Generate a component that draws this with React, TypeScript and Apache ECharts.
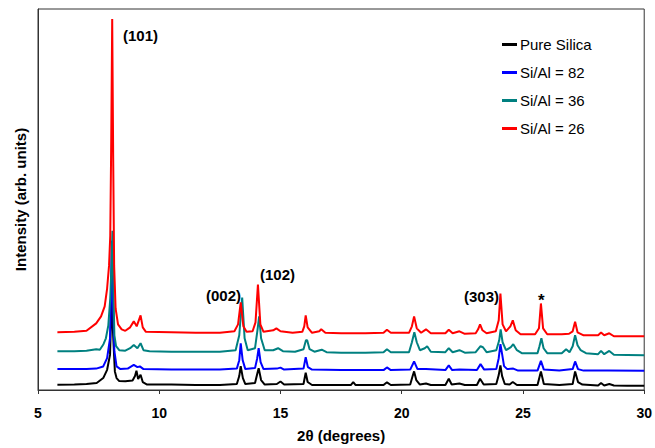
import React, { useEffect, useRef } from "react";
import * as echarts from "echarts";

// 2θ (degrees), intensity (arb. units, offset stacked)
const pureSilica: [number, number][] = [
  [5.8, 5.3], [6.5, 5.5], [7.0, 6], [7.42, 7], [7.69, 12], [7.85, 20.3], [7.97, 35.3], [8.01, 70], [8.03, 115], [8.07, 70],
  [8.17, 18.7], [8.24, 12], [8.35, 9], [8.6, 8.7], [8.9, 9.5], [9.0, 14], [9.06, 19.3], [9.13, 11], [9.23, 15.3], [9.32, 8],
  [9.5, 5.5], [10.5, 5.5], [11.5, 5], [12.5, 5], [13.2, 6], [13.3, 14], [13.36, 24], [13.45, 12], [13.55, 6], [13.95, 7],
  [14.05, 17], [14.1, 22], [14.2, 10], [14.35, 5.5], [14.85, 6], [15.0, 8.5], [15.15, 5.5], [15.95, 6], [16.04, 17.3], [16.12, 8],
  [16.3, 5], [17.5, 5], [17.9, 5], [18.0, 8], [18.1, 5], [19.25, 5], [19.39, 7.7], [19.55, 5], [20.35, 5.5], [20.45, 14],
  [20.51, 18.7], [20.6, 10], [20.75, 5.5], [21.0, 6.5], [21.2, 5], [21.8, 5], [21.94, 11.3], [22.06, 5.5], [22.38, 6.5], [22.6, 5],
  [23.1, 5], [23.23, 11.3], [23.38, 5.5], [23.9, 6], [24.0, 15], [24.07, 24.7], [24.14, 14], [24.25, 6], [24.45, 5.5], [24.58, 8],
  [24.75, 5], [25.6, 5], [25.74, 18.7], [25.86, 6], [26.5, 5], [27.05, 6], [27.15, 18.7], [27.27, 8], [27.45, 5.5], [28.1, 4.5],
  [28.22, 7], [28.35, 4.5], [28.56, 6], [28.75, 4.5], [29.3, 4.3], [30.0, 4.3],
];

const siAl82: [number, number][] = [
  [5.8, 21], [6.5, 21], [7.0, 21], [7.4, 21.5], [7.69, 23.7], [7.85, 32], [7.97, 52], [8.01, 95], [8.04, 150], [8.08, 95],
  [8.15, 39], [8.24, 23.7], [8.4, 21], [8.7, 21.5], [8.95, 25.3], [9.1, 23], [9.2, 23.7], [9.35, 21], [10.5, 20.5], [11.5, 20.5],
  [12.5, 20.5], [13.2, 21.5], [13.3, 30], [13.36, 47], [13.44, 30], [13.55, 21], [13.95, 22], [14.04, 32], [14.1, 42], [14.18, 28],
  [14.3, 21], [14.85, 21.5], [15.0, 22.5], [15.15, 20.5], [15.95, 21.5], [16.04, 33], [16.13, 23], [16.3, 20.5], [17.5, 20], [18.5, 20],
  [19.25, 20], [19.39, 22.7], [19.55, 20], [20.35, 20.5], [20.51, 28.7], [20.65, 21], [21.0, 21], [21.8, 20], [21.94, 24.7], [22.08, 20],
  [22.38, 20.5], [23.1, 20], [23.25, 26], [23.4, 20.5], [23.9, 21], [24.0, 32], [24.07, 46], [24.14, 36], [24.22, 24], [24.35, 21],
  [24.6, 21.5], [24.8, 19.5], [25.6, 19.5], [25.74, 29.3], [25.86, 20.5], [26.5, 19.5], [27.05, 21], [27.15, 28.7], [27.27, 21], [27.5, 19.5],
  [28.5, 19.5], [30.0, 19.3],
];

const siAl36: [number, number][] = [
  [5.8, 39], [6.5, 39], [7.0, 39.5], [7.4, 41], [7.55, 40.5], [7.7, 46], [7.8, 52], [7.9, 65], [7.98, 92], [8.03, 125],
  [8.07, 160], [8.11, 100], [8.15, 55], [8.22, 44], [8.35, 40], [8.6, 39.5], [8.8, 42], [8.95, 45.3], [9.1, 42], [9.23, 47],
  [9.35, 40], [9.6, 39], [10.5, 38.5], [11.5, 38.5], [12.5, 38.5], [13.15, 40], [13.3, 55], [13.42, 93], [13.52, 52], [13.65, 40],
  [13.95, 42], [14.05, 60], [14.12, 74], [14.2, 52], [14.35, 40], [14.7, 40], [14.9, 42], [15.1, 39], [15.6, 38.5], [15.95, 41],
  [16.05, 50], [16.1, 50], [16.2, 41], [16.4, 38.5], [16.7, 40.5], [16.9, 38], [17.5, 37.5], [18.5, 37.5], [19.25, 38], [19.39, 41],
  [19.55, 38], [20.3, 38], [20.42, 48], [20.52, 58], [20.62, 48], [20.75, 40], [20.95, 42], [21.05, 44], [21.2, 38.5], [21.8, 38],
  [21.94, 42], [22.1, 38], [22.38, 40], [22.6, 37.5], [23.05, 38], [23.25, 44], [23.35, 43], [23.5, 38], [23.9, 40], [24.02, 50],
  [24.08, 61], [24.16, 48], [24.3, 40], [24.5, 43], [24.6, 46], [24.75, 40], [24.95, 37], [25.6, 37], [25.68, 44], [25.76, 52],
  [25.85, 42], [26.0, 37], [26.6, 37], [26.78, 41], [26.92, 38], [27.05, 44], [27.15, 55], [27.25, 45], [27.38, 40], [27.45, 39],
  [27.6, 37], [28.1, 36], [28.22, 39.3], [28.35, 36], [28.56, 39.3], [28.75, 35.5], [29.3, 35.3], [30.0, 35],
];

const siAl26: [number, number][] = [
  [5.8, 58], [6.5, 58.5], [7.0, 59.5], [7.4, 67], [7.6, 74], [7.75, 84], [7.85, 102], [7.93, 125], [7.98, 155], [8.02, 250],
  [8.06, 373], [8.1, 235], [8.14, 125], [8.2, 82], [8.3, 66], [8.45, 61], [8.6, 59.5], [8.8, 63], [8.95, 69], [9.07, 64],
  [9.23, 75], [9.32, 63], [9.45, 58.5], [10.5, 58], [11.5, 57.5], [12.5, 57.5], [13.1, 59], [13.25, 66], [13.36, 88], [13.47, 64],
  [13.6, 58.5], [13.85, 59], [13.97, 68], [14.07, 106], [14.17, 66], [14.3, 58.5], [14.7, 60], [14.83, 62], [15.0, 59], [15.5, 57.5],
  [15.9, 58.5], [15.98, 64], [16.04, 75], [16.12, 63], [16.3, 57.5], [16.6, 59], [16.68, 61], [16.85, 57.5], [17.5, 57], [18.5, 57],
  [19.25, 57.5], [19.39, 60.5], [19.55, 57.5], [20.3, 57.5], [20.42, 64], [20.51, 74], [20.62, 62], [20.8, 57.5], [21.0, 61], [21.2, 57],
  [21.8, 57], [21.94, 60.5], [22.1, 57], [22.38, 59], [22.6, 56.5], [23.05, 57], [23.15, 61], [23.23, 66], [23.33, 60], [23.5, 57],
  [23.88, 59], [24.0, 70], [24.07, 97], [24.16, 66], [24.3, 59], [24.48, 64], [24.58, 70], [24.7, 60], [24.9, 56], [25.5, 56],
  [25.66, 62], [25.74, 87], [25.83, 62], [26.0, 56], [26.6, 56], [26.9, 56.5], [27.05, 59], [27.15, 68.7], [27.25, 58], [27.5, 55],
  [28.1, 55], [28.22, 57.7], [28.35, 55], [28.56, 57], [28.75, 54], [29.3, 54], [30.0, 54],
];

const seriesNames = ["Pure Silica", "Si/Al = 82", "Si/Al = 36", "Si/Al = 26"];
const seriesColors = ["#000000", "#0000ff", "#008080", "#ff0000"];
const seriesData = [pureSilica, siAl82, siAl36, siAl26];

const peakLabels = ["(101)", "(002)", "(102)", "(303)", "*"];
const xTickLabels = ["5", "10", "15", "20", "25", "30"];

const FONT = "'Liberation Sans', Arial, Helvetica, sans-serif";

export default function App() {
  const ref = useRef<HTMLDivElement>(null);
  useEffect(() => {
    if (!ref.current) return;
    const chart = echarts.init(ref.current, undefined, { renderer: "svg" });
    const labelPos = [
      { x: 123, y: 35 },
      { x: 206, y: 295 },
      { x: 260, y: 274 },
      { x: 464, y: 296 },
      { x: 538, y: 300 },
    ];
    chart.setOption({
      animation: false,
      backgroundColor: "#ffffff",
      grid: {
        left: 38,
        right: 10,
        top: 9,
        bottom: 56,
        show: true,
        borderColor: "#333",
        borderWidth: 1,
        backgroundColor: "transparent",
      },
      legend: {
        orient: "vertical",
        left: 497,
        top: 32,
        itemGap: 13,
        itemWidth: 15,
        itemHeight: 3,
        icon: "rect",
        data: seriesNames,
        textStyle: { fontFamily: FONT, fontSize: 15, color: "#000", padding: [0, 0, 0, -2] },
      },
      xAxis: {
        type: "value",
        min: 5,
        max: 30,
        interval: 5,
        name: "2θ (degrees)",
        nameLocation: "middle",
        nameGap: 38,
        nameTextStyle: { fontFamily: FONT, fontSize: 15, fontWeight: "bold", color: "#000" },
        axisLine: { show: true, lineStyle: { color: "#333", width: 1 } },
        axisTick: { show: true, length: 4, inside: false, lineStyle: { color: "#333" } },
        axisLabel: {
          margin: 16,
          fontFamily: FONT,
          fontSize: 14,
          fontWeight: "bold",
          color: "#000",
          formatter: (v: number) => {
            const i = Math.round((v - 5) / 5);
            return xTickLabels[i] ?? "";
          },
        },
        splitLine: { show: false },
      },
      yAxis: {
        type: "value",
        min: 0,
        max: 383,
        name: "Intensity (arb. units)",
        nameLocation: "middle",
        nameGap: 10,
        nameTextStyle: { fontFamily: FONT, fontSize: 15, fontWeight: "bold", color: "#000" },
        axisLine: { show: true, lineStyle: { color: "#333", width: 1 } },
        axisTick: { show: false },
        axisLabel: { show: false },
        splitLine: { show: false },
      },
      series: seriesData.map((d, i) => ({
        name: seriesNames[i],
        type: "line",
        data: d,
        showSymbol: false,
        symbol: "none",
        color: seriesColors[i],
        lineStyle: { color: seriesColors[i], width: 2 },
        z: 2 + i,
      })),
      graphic: peakLabels.map((t, i) => ({
        type: "text",
        x: labelPos[i].x,
        y: labelPos[i].y,
        z: 10,
        style: {
          text: t,
          fontFamily: FONT,
          fontSize: t === "*" ? 17 : 15,
          fontWeight: "bold",
          fill: "#000",
          verticalAlign: "middle",
          align: "left",
        },
      })),
    });
    return () => chart.dispose();
  }, []);
  return (
    <div
      ref={ref}
      style={{ position: "absolute", left: 0, top: 0, width: 655, height: 448 }}
    />
  );
}
